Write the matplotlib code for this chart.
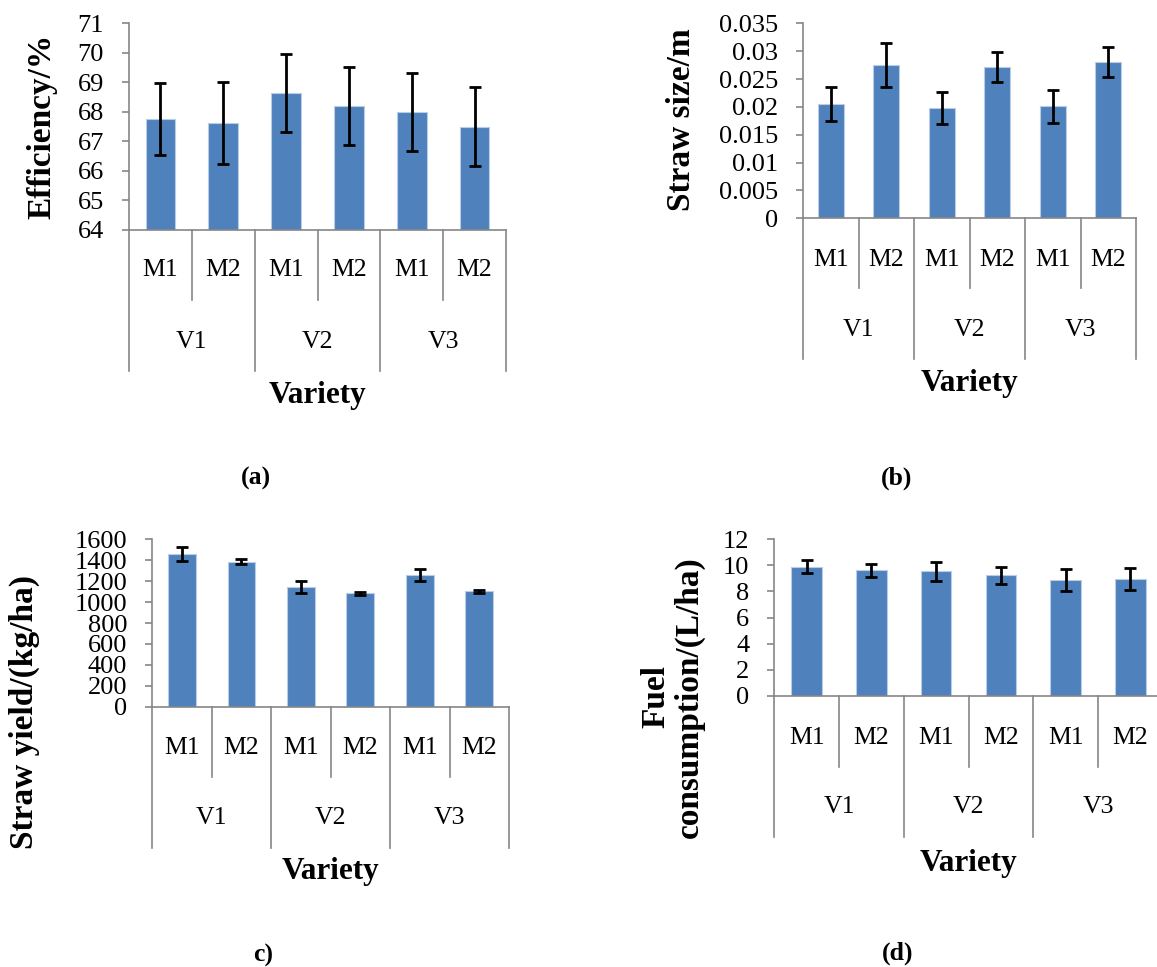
import matplotlib
matplotlib.use("Agg")
import matplotlib.pyplot as plt
import numpy as np

plt.rcParams['font.family'] = ['Liberation Serif', 'DejaVu Serif']

W, H = 1157, 967

# данные
methods = ["M1", "M2", "M1", "M2", "M1", "M2"]
varieties = ["V1", "V2", "V3"]

efficiency = [67.75, 67.62, 68.65, 68.20, 68.00, 67.50]
efficiency_err = [1.22, 1.40, 1.32, 1.31, 1.33, 1.33]

straw_size = [0.0205, 0.0275, 0.0198, 0.0271, 0.0201, 0.0280]
straw_size_err = [0.0031, 0.0040, 0.0029, 0.0027, 0.0030, 0.0027]

straw_yield = [1460, 1386, 1147, 1084, 1256, 1103]
straw_yield_err = [64, 22, 59, 13, 57, 16]

fuel = [9.88, 9.60, 9.52, 9.22, 8.85, 8.98]
fuel_err = [0.50, 0.50, 0.72, 0.66, 0.85, 0.84]

BAR = '#4F81BD'
GRAY = '#868686'


def panel(fig, box, vals, errs, ylim, yticks, yfmt, ylabel, lab_xy, tag, tag_xy, right_line=True):
    # box - пиксели: лево, право, верх, ось, низ коротких линий, низ длинных, y для M, V, Variety
    left, right, top, base, sep, outer, m_y, v_y, var_y = box
    ax = fig.add_axes([left / W, 1 - base / H, (right - left) / W, (base - top) / H])
    x = np.arange(len(vals))
    ax.bar(x, np.array(vals) - ylim[0], bottom=ylim[0], width=0.47, color=BAR,
           edgecolor='#B9CDE5', linewidth=0.8, zorder=2)
    ax.errorbar(x, vals, yerr=errs, fmt='none', ecolor='black', elinewidth=2,
                capsize=4.5, capthick=2, zorder=3)
    ax.set_xlim(-0.5, 5.5)
    ax.set_ylim(*ylim)
    ax.set_yticks(yticks)
    ax.set_yticklabels([yfmt(t) for t in yticks], fontsize=19)
    ax.set_xticks([])
    for s in ['top', 'right']:
        ax.spines[s].set_visible(False)
    for s in ['left', 'bottom']:
        ax.spines[s].set_color(GRAY)
        ax.spines[s].set_linewidth(1.2)
    ax.tick_params(axis='y', direction='out', length=5, width=1.2, color=GRAY, pad=13)
    ax.patch.set_alpha(0)

    # подписи категорий ниже оси (как в Excel)
    cat = fig.add_axes([left / W, 1 - outer / H, (right - left) / W, (outer - base) / H])
    cat.set_xlim(-0.5, 5.5)
    cat.set_ylim(outer, base)
    cat.axis('off')
    full = [-0.5, 1.5, 3.5] + ([5.5] if right_line else [])
    for xx in full:
        cat.plot([xx, xx], [base, outer], color=GRAY, lw=1.2, clip_on=False)
    for xx in [0.5, 2.5, 4.5]:
        cat.plot([xx, xx], [base, sep], color=GRAY, lw=1.2, clip_on=False)
    for i, m in enumerate(methods):
        cat.text(i, m_y, m, ha='center', va='center', fontsize=18.5)
    for j, v in enumerate(varieties):
        cat.text(2 * j + 0.5, v_y, v, ha='center', va='center', fontsize=18.5)

    fig.text((left + right) / 2 / W, 1 - var_y / H, 'Variety', ha='center', va='center',
             fontsize=22.5, fontweight='bold')
    fig.text(lab_xy[0] / W, 1 - lab_xy[1] / H, ylabel, rotation=90, ha='center', va='center',
             fontsize=24, fontweight='bold', multialignment='center', linespacing=1.1)
    fig.text(tag_xy[0] / W, 1 - tag_xy[1] / H, tag, ha='center', va='center',
             fontsize=18.5, fontweight='bold')
    return ax


fig = plt.figure(figsize=(W / 100, H / 100), dpi=100)

panel(fig, (129, 506, 23.3, 230, 300, 371, 270, 342, 395),
      efficiency, efficiency_err, (64, 71), list(range(64, 72)), lambda t: f"{t:g}",
      'Efficiency/%', (42, 126), '(a)', (256, 478))

panel(fig, (803, 1136, 23.3, 218.3, 288.3, 359.3, 260, 330, 383),
      straw_size, straw_size_err, (0, 0.035), [i * 0.005 for i in range(8)],
      lambda t: f"{round(t, 3):g}",
      'Straw size/m', (682, 120), '(b)', (897, 478))

panel(fig, (152.3, 509, 539.3, 706.7, 776.7, 847.7, 748.3, 817.7, 871.7),
      straw_yield, straw_yield_err, (0, 1600), list(range(0, 1601, 200)), lambda t: f"{t:g}",
      'Straw yield/(kg/ha)', (24, 712), 'c)', (263, 955))

panel(fig, (774.3, 1162.8, 539, 696, 766.7, 837.3, 738.3, 807.3, 863.3),
      fuel, fuel_err, (0, 12), list(range(0, 13, 2)), lambda t: f"{t:g}",
      'Fuel\nconsumption/(L/ha)', (673, 697), '(d)', (898, 953), right_line=False)

fig.savefig('out.png', dpi=100)
